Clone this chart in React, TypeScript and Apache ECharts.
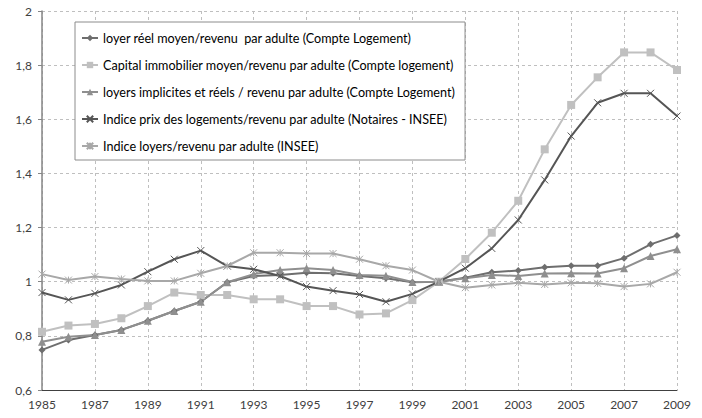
import React, { useEffect, useRef } from "react";
import * as echarts from "echarts";

const years = [
  "1985", "1986", "1987", "1988", "1989", "1990", "1991", "1992", "1993", "1994",
  "1995", "1996", "1997", "1998", "1999", "2000", "2001", "2002", "2003", "2004",
  "2005", "2006", "2007", "2008", "2009",
];

const loyerReel = [
  0.748, 0.785, 0.803, 0.822, 0.856, 0.892, 0.926, 0.998, 1.021, 1.025,
  1.033, 1.031, 1.021, 1.013, 0.998, 1.0, 1.015, 1.035, 1.041, 1.053,
  1.059, 1.059, 1.087, 1.138, 1.171,
];

const capitalImmo = [
  0.815, 0.838, 0.844, 0.865, 0.91, 0.96, 0.951, 0.951, 0.935, 0.935,
  0.91, 0.91, 0.879, 0.883, 0.932, 1.0, 1.084, 1.181, 1.299, 1.489,
  1.653, 1.755, 1.847, 1.847, 1.782,
];

const loyersImplicites = [
  0.778, 0.797, 0.803, 0.822, 0.856, 0.892, 0.926, 0.998, 1.028, 1.043,
  1.05, 1.043, 1.025, 1.022, 0.999, 1.0, 1.013, 1.025, 1.021, 1.03,
  1.031, 1.03, 1.05, 1.095, 1.12,
];

const indicePrix = [
  0.96, 0.933, 0.957, 0.988, 1.037, 1.083, 1.115, 1.058, 1.046, 1.021,
  0.982, 0.967, 0.953, 0.926, 0.955, 1.0, 1.05, 1.123, 1.228, 1.376,
  1.538, 1.661, 1.696, 1.696, 1.612,
];

const indiceLoyers = [
  1.028, 1.006, 1.019, 1.01, 1.003, 1.003, 1.031, 1.058, 1.107, 1.107,
  1.104, 1.104, 1.083, 1.059, 1.043, 1.0, 0.978, 0.988, 0.996, 0.99,
  0.996, 0.994, 0.982, 0.992, 1.035,
];

const seriesNames = [
  "loyer réel moyen/revenu  par adulte (Compte Logement)",
  "Capital immobilier moyen/revenu par adulte (Compte logement)",
  "loyers implicites et réels / revenu par adulte (Compte Logement)",
  "Indice prix des logements/revenu par adulte (Notaires - INSEE)",
  "Indice loyers/revenu par adulte (INSEE)",
];

const FONT = "Lato, 'Open Sans', sans-serif";

const X_PATH = "path://M0,0L10,10M10,0L0,10";
const STAR_PATH = "path://M0,0L10,10M10,0L0,10M5,0L5,10";

function makeSeries(name: string, data: number[], color: string, symbol: string, size: number, stroke: boolean) {
  return {
    name,
    type: "line",
    data,
    symbol,
    symbolSize: size,
    showSymbol: true,
    lineStyle: { color, width: 2 },
    itemStyle: stroke
      ? { color: color, borderColor: color, borderWidth: 1 }
      : { color: color, borderWidth: 0 },
    emphasis: { disabled: true },
  };
}

export default function App() {
  const ref = useRef<HTMLDivElement>(null);

  useEffect(() => {
    if (!ref.current) return;
    const chart = echarts.init(ref.current, null, { renderer: "svg" });
    const fmt = (v: number) => {
      const r = Math.round(v * 10) / 10;
      return Number.isInteger(r) ? String(r) : r.toFixed(1).replace(".", ",");
    };
    chart.setOption({
      animation: false,
      backgroundColor: "#ffffff",
      textStyle: { fontFamily: FONT },
      grid: { left: 42, right: 25, top: 11, bottom: 28, containLabel: false },
      legend: {
        orient: "vertical",
        left: 75,
        top: 22,
        padding: [8, 10, 6, 6],
        itemGap: 11,
        itemWidth: 16,
        itemHeight: 8,
        borderColor: "#8c8c8c",
        borderWidth: 1,
        backgroundColor: "#ffffff",
        textStyle: { fontFamily: FONT, fontSize: 12.6, color: "#000000", lineHeight: 16 },
        data: seriesNames,
      },
      xAxis: {
        type: "category",
        data: years,
        boundaryGap: false,
        axisLine: { lineStyle: { color: "#404040", width: 1 } },
        axisTick: { show: false },
        axisLabel: { interval: 1, color: "#404040", fontSize: 12, fontFamily: FONT, margin: 8 },
        splitLine: {
          show: true,
          interval: 1,
          lineStyle: { color: "#bfbfbf", type: [3, 3], width: 1 },
        },
      },
      yAxis: {
        type: "value",
        min: 0.6,
        max: 2,
        interval: 0.2,
        axisLine: { show: true, lineStyle: { color: "#868686", width: 1.5 } },
        axisTick: { show: true, length: 4, lineStyle: { color: "#868686" } },
        axisLabel: { color: "#404040", fontSize: 12, fontFamily: FONT, margin: 10, formatter: fmt },
        splitLine: {
          show: true,
          lineStyle: { color: "#bfbfbf", type: [3, 3], width: 1 },
        },
      },
      series: [
        makeSeries(seriesNames[0], loyerReel, "#6e6e6e", "diamond", 7, false),
        makeSeries(seriesNames[1], capitalImmo, "#c0c0c0", "rect", 8, false),
        makeSeries(seriesNames[2], loyersImplicites, "#8f8f8f", "triangle", 8, false),
        makeSeries(seriesNames[3], indicePrix, "#555555", X_PATH, 7, true),
        makeSeries(seriesNames[4], indiceLoyers, "#a8a8a8", STAR_PATH, 7, true),
      ],
    });
    return () => chart.dispose();
  }, []);

  return (
    <div
      ref={ref}
      style={{ position: "fixed", left: 0, top: 0, width: 702, height: 418, background: "#fff" }}
    />
  );
}
